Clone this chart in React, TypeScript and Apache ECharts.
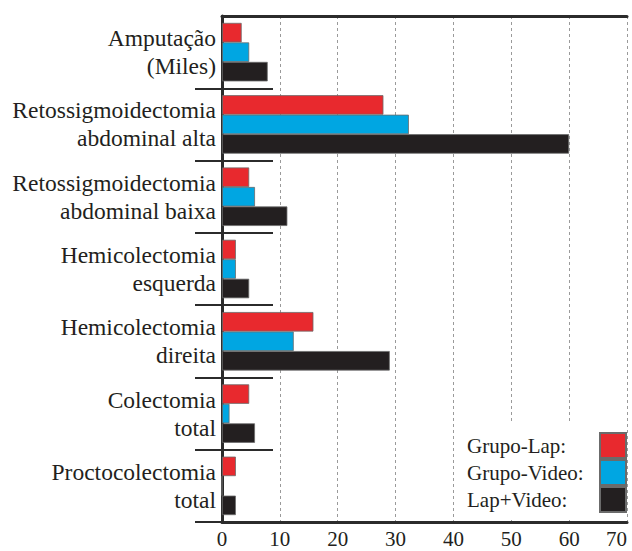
import React, { useEffect, useRef } from "react";
import * as echarts from "echarts";

const categories = [
  "Amputação\n(Miles)",
  "Retossigmoidectomia\nabdominal alta",
  "Retossigmoidectomia\nabdominal baixa",
  "Hemicolectomia\nesquerda",
  "Hemicolectomia\ndireita",
  "Colectomia\ntotal",
  "Proctocolectomia\ntotal",
];
const seriesNames = ["Grupo-Lap", "Grupo-Video", "Lap+Video"];
const grupoLap = [3.4, 27.9, 4.7, 2.4, 15.8, 4.7, 2.4];
const grupoVideo = [4.7, 32.3, 5.7, 2.4, 12.4, 1.3, 0];
const lapVideo = [7.9, 60.0, 11.3, 4.7, 29.0, 5.7, 2.4];
const colors = ["#E8292E", "#00A6E2", "#231F20"];
const xTicks = { min: 0, max: 70, interval: 10 };

const FONT = "Liberation Serif";

export default function App() {
  const ref = useRef<HTMLDivElement>(null);
  useEffect(() => {
    if (!ref.current) return;
    const chart = echarts.init(ref.current, undefined, { renderer: "svg" });
    const values = [grupoLap, grupoVideo, lapVideo];
    chart.setOption({
      animation: false,
      backgroundColor: "#ffffff",
      grid: { left: 222, right: 5, top: 16, bottom: 29, containLabel: false, outerBoundsMode: "none" },
      xAxis: [
        {
          type: "value",
          position: "bottom",
          min: xTicks.min,
          max: xTicks.max,
          interval: xTicks.interval,
          axisLine: { show: true, onZero: false, lineStyle: { color: "#2b2b2b", width: 3 } },
          axisTick: { show: false },
          axisLabel: { fontFamily: FONT, fontSize: 21, color: "#231F20", margin: 6, alignMaxLabel: "right" },
          splitLine: { show: true, lineStyle: { color: "#9a9a9a", type: [3, 3], width: 1 } },
        },
        {
          type: "value",
          position: "top",
          min: xTicks.min,
          max: xTicks.max,
          interval: xTicks.interval,
          axisLine: { show: true, onZero: false, lineStyle: { color: "#2b2b2b", width: 3 } },
          axisTick: { show: false },
          axisLabel: { show: false },
          splitLine: { show: false },
        },
      ],
      yAxis: [
        {
          type: "category",
          data: categories,
          inverse: true,
          position: "left",
          axisLine: { show: true, onZero: false, lineStyle: { color: "#2b2b2b", width: 3 } },
          axisTick: {
            show: true,
            length: 27,
            interval: (index: number) => index !== 0,
            lineStyle: { color: "#2b2b2b", width: 2 },
          },
          axisLabel: {
            fontFamily: FONT,
            fontSize: 23.5,
            lineHeight: 28,
            color: "#231F20",
            margin: 6,
            align: "right",
          },
          splitLine: { show: false },
        },
        {
          type: "category",
          data: categories,
          inverse: true,
          position: "left",
          axisLine: { show: false },
          axisTick: { show: true, inside: true, length: 51, lineStyle: { color: "#2b2b2b", width: 2 } },
          axisLabel: { show: false },
          splitLine: { show: false },
        },
      ],
      legend: {
        orient: "vertical",
        right: 5,
        top: 424,
        align: "right",
        itemWidth: 26,
        itemHeight: 25,
        itemGap: 0,
        padding: [8, 0, 5, 8],
        backgroundColor: "#ffffff",
        icon: "rect",
        data: seriesNames,
        formatter: (name: string) => `{n|${name}:}`,
        textStyle: {
          fontFamily: FONT,
          fontSize: 21,
          color: "#231F20",
          rich: { n: { width: 128, align: "left", fontFamily: FONT, fontSize: 21, color: "#231F20" } },
        },
      },
      series: seriesNames.map((name, i) => ({
        name,
        type: "bar",
        xAxisIndex: 0,
        yAxisIndex: 0,
        data: values[i],
        barWidth: 19.5,
        barGap: "0%",
        itemStyle: { color: colors[i], borderColor: "#6b6b6b", borderWidth: 0.8 },
      })),
    });
    return () => chart.dispose();
  }, []);
  return (
    <div
      ref={ref}
      style={{ position: "absolute", left: 0, top: 0, width: 632, height: 551 }}
    />
  );
}
